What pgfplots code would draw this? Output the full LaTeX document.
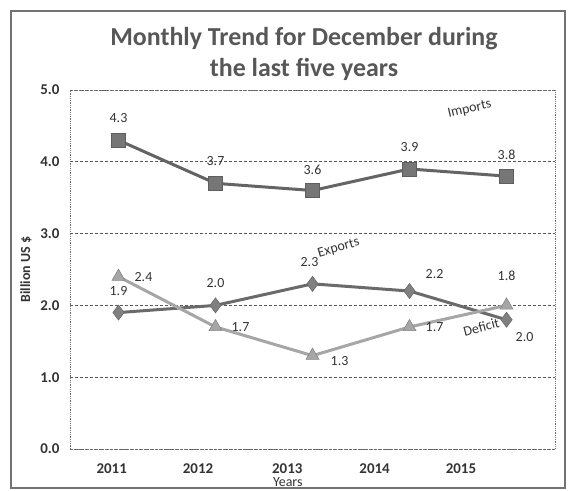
\documentclass[border=0pt]{standalone}
\usepackage{pgfplots}
\pgfplotsset{compat=1.18}
\usepackage{fontspec}
\setmainfont{Carlito}
\definecolor{impc}{HTML}{767676}
\definecolor{expc}{HTML}{6A6A6A}
\definecolor{defc}{HTML}{A6A6A6}
\begin{document}
\begin{tikzpicture}[x=1bp,y=1bp]
\useasboundingbox (0,0) rectangle (571,491);
\draw[black!55, line width=2.5bp] (11,3) rectangle (565,480);
\node[font=\fontsize{26}{32}\selectfont\bfseries, text=black!66, align=center] at (304,437)
  {Monthly Trend for December during\\the last five years};
\begin{axis}[
  at={(70bp,42bp)}, anchor=south west,
  width=485bp, height=359bp, scale only axis,
  xmin=-0.5, xmax=4.5, ymin=0, ymax=5,
  % tick labels sit left of the points, as in the scanned original
  xtick={-0.07,0.82,1.74,2.64,3.53}, xticklabels={2011,2012,2013,2014,2015},
  ytick={0,1,...,5},
  ticklabel style={font=\fontsize{15}{17}\selectfont\bfseries, text=black!80},
  xticklabel style={yshift=-11bp},
  yticklabel style={xshift=-7bp, /pgf/number format/.cd, fixed, fixed zerofill, precision=1},
  /pgf/number format/assume math mode=true,
  tick style={draw=none},
  ymajorgrids,
  grid style={black!65, densely dashed, line width=0.8bp},
  axis line style={black!55, densely dotted, line width=0.8bp},
  ylabel={Billion US \$}, ylabel style={font=\fontsize{14}{16}\selectfont\bfseries, text=black!80, yshift=2bp},
  xlabel={Years}, xlabel style={font=\fontsize{14}{16}\selectfont, text=black!80,
    at={(axis description cs:0.449,0)}, anchor=center, yshift=-33bp},
  nodes near coords,
  visualization depends on={value \thisrow{dx}\as\mydx},
  visualization depends on={value \thisrow{dy}\as\mydy},
  nodes near coords style={font=\fontsize{14}{16}\selectfont, text=black!80,
    anchor=center, xshift=\mydx bp, yshift=\mydy bp,
    /pgf/number format/.cd, fixed, fixed zerofill, precision=1, assume math mode=true},
]
\addplot[draw=expc, line width=3bp, mark=diamond*, mark size=7.5bp,
  mark options={fill=expc!85, draw=expc, line width=0.6bp}]
  table[x=x, y=y] {
x y dx dy
0 1.9 0 22
1 2.0 0 22
2 2.3 -3 22
3 2.2 25 17
4 1.8 0 44
};
\addplot[draw=defc, line width=3bp, mark=triangle*, mark size=7.5bp,
  mark options={fill=defc, draw=defc!80!black, line width=0.6bp}]
  table[x=x, y=y] {
x y dx dy
0 2.4 25 0
1 1.7 25 0
2 1.3 27 -5
3 1.7 25 0
4 2.0 18 -32
};
\addplot[draw=impc!85!black, line width=3bp, mark=square*, mark size=7bp,
  mark options={fill=impc, draw=impc!80!black, line width=0.6bp}]
  table[x=x, y=y] {
x y dx dy
0 4.3 0 22
1 3.7 0 22
2 3.6 0 21
3 3.9 0 22
4 3.8 0 21
};
\node[font=\fontsize{14}{16}\selectfont, text=black!80, rotate=13] at (axis cs:3.62,4.73) {Imports};
\node[font=\fontsize{14}{16}\selectfont, text=black!80, rotate=16] at (axis cs:2.27,2.8) {Exports};
\node[font=\fontsize{14}{16}\selectfont, text=black!80, rotate=15] at (axis cs:3.74,1.7) {Deficit};
\end{axis}
\end{tikzpicture}
\end{document}
